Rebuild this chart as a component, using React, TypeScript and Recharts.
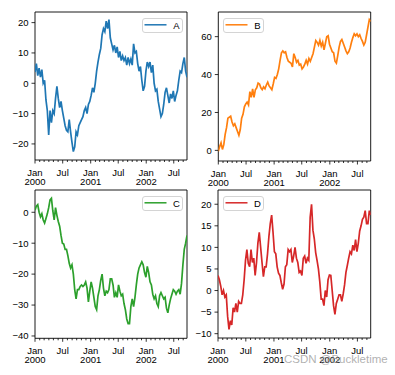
import React from "react";
import { LineChart, Line, XAxis, YAxis, ReferenceArea, Legend } from "recharts";

// Sampled every DAY_STEP days starting 2000-01-01 (index 0 = day 0)
const DAY_STEP = 9;

const seriesA = [
  3.7, 6.5, 2.5, 5, 2, 4.5, 0, 1, -5.5, -9, -17, -9, -13, -9, -10, -5, -1, -5, -8, -6,
  -9, -11.5, -14, -15.5, -16, -12, -16, -19.5, -22.5, -21, -16, -17, -14, -13, -12, -11, -9, -8, -10, -7,
  -6, -4, -1.5, -3, 0, 4, 7, 9.5, 11.5, 16, 18, 17, 20.5, 18, 21, 15, 13, 11, 12.5, 10,
  12, 8.5, 10.5, 7.5, 9, 7.5, 8.5, 6, 8.5, 6.5, 8, 6, 13, 10, 10.5, 6.5, 4, 5.5, 1, -2.5,
  -1, 4, 7, 5.5, 7, 3.5, 6, 0, -2.5, -2, -6, -8.5, -11, -10, -7, -3, -1.5, -4, -6.5, -3.5,
  -5, -2.5, -6, -4, -2.5, 1, 4, 3.5, 6.5, 8.5, 4, 2,
];

const seriesB = [
  -0.5, 2, 4, 0.5, 3, 8.5, 12, 17, 17.5, 18, 15, 13, 14, 12, 10, 8, 11, 17, 19, 23,
  24.5, 25.5, 24, 31, 28, 32.5, 28, 32, 33, 35.5, 35, 33, 32, 33.5, 32.5, 34.5, 36, 34, 33, 32,
  35, 38.5, 38, 40, 43, 47.5, 51.5, 52.5, 51.5, 52, 49, 47, 46.5, 46, 44, 51, 49, 46.5, 47.5, 45,
  45.5, 43, 44, 45.5, 47.5, 45.5, 48.5, 47, 49, 51, 54.5, 58, 57, 55.5, 58, 55, 57, 53, 56.5, 60,
  60.5, 56, 54, 52, 51.5, 47, 46, 50, 54.5, 57.5, 58.5, 56.5, 54.5, 52.5, 51, 52, 54, 57, 59.5, 61.5,
  60.5, 61.5, 60, 61, 59, 57.5, 55.5, 57, 61, 65, 69, 68,
];

const seriesC = [
  0.7, 2, 2.5, 0, -1.5, -0.5, -2.5, -3.5, -2, -0.5, 1.5, 4, 4.5, 0.5, -2.5, 1.5, -1, -3, -4.5, -7.5,
  -10, -10.3, -12, -12, -14, -16.5, -18, -17, -20, -25, -28, -25, -25, -24, -23.5, -24, -23.5, -22.5, -24.5, -29,
  -25.5, -22.5, -24.5, -27.5, -30.5, -31.5, -27, -25, -22, -20, -24.5, -27, -25.5, -26, -25, -21.5, -21.5, -23.5, -27.5, -26,
  -27.5, -23.5, -25.5, -27, -26.5, -29.5, -31.5, -34.5, -36, -36, -30.5, -28, -30.5, -27.5, -23.5, -20, -18, -17, -16, -17,
  -19.5, -21, -17.5, -19.5, -22.5, -23.5, -26.5, -28, -27, -29.5, -30.5, -27, -26, -27, -28, -27.5, -31, -32.5, -30, -28,
  -26.5, -25, -25.5, -26.5, -25.5, -25, -26.5, -23, -17, -12, -10, -7.5,
];

const seriesD = [
  3.5, 2.5, 1, -1, 0, -1.5, -1, -6, -9, -7, -8, -4, -5, -3, -5, -2.5, -3, -3, -1, 2.5,
  7, 9.5, 6.3, 5.5, 9.5, 6.5, 7.5, 3.5, 6.5, 11, 13.5, 10, 6.5, 3.2, 5.5, 5.5, 8.5, 12.5, 15.5, 17.5,
  13.5, 9, 8.5, 5.5, 4, 3.5, 1.8, 0.3, 1.5, 5.5, 6, 9.5, 9, 9.5, 6.5, 8, 10, 7.5, 6.5, 4.2,
  4.5, 3.5, 7.5, 8, 6.3, 7.5, 7, 17, 20, 14, 12, 8.8, 7, 5, 2, -2, -2, -3.5, 0, -1.5,
  2.5, 3.6, 3.5, 0, -3.5, -5.5, -3, -2, -1, -1, -2.5, -0.8, 1.3, 4.2, 5.8, 7.5, 9, 8.5, 10.5, 9.3,
  11.8, 9, 11, 13.8, 15, 16.5, 17, 18.5, 15.5, 15.5, 18.5, 17.5,
];

const seriesNames = ["A", "B", "C", "D"];
const seriesColors = ["#1f77b4", "#ff7f0e", "#2ca02c", "#d62728"];

const yTicksA = [-20, -10, 0, 10, 20];
const yTicksB = [0, 20, 40, 60];
const yTicksC = [-40, -30, -20, -10, 0];
const yTicksD = [-10, -5, 0, 5, 10, 15, 20];

const monthNames = ["Jan", "Feb", "Mar", "Apr", "May", "Jun", "Jul", "Aug", "Sep", "Oct", "Nov", "Dec"];
const LAST_DAY = 999;

// month-start tick positions (days since 2000-01-01)
const monthTicks: { day: number; month: number; year: number }[] = [];
for (let y = 2000; y <= 2002; y++) {
  for (let m = 0; m < 12; m++) {
    const day = Math.round((Date.UTC(y, m, 1) - Date.UTC(2000, 0, 1)) / 86400000);
    if (day <= LAST_DAY) monthTicks.push({ day, month: m, year: y });
  }
}
const tickDays = monthTicks.map((t) => t.day);

const FONT = "'Liberation Sans', Arial, sans-serif";

const toData = (arr: number[]) => arr.map((v, i) => ({ day: i * DAY_STEP, v }));

const fmtY = (v: number) => (v < 0 ? "\u2212" + Math.abs(v) : String(v));

const MonthTick = (props: any) => {
  const { x, y, payload } = props;
  const info = monthTicks.find((t) => t.day === payload.value);
  if (!info) return null;
  const major = info.month === 0 || info.month === 6;
  return (
    <g>
      <line x1={x} x2={x} y1={y} y2={y + (major ? 3.5 : 2)} stroke="#000" strokeWidth={0.8} />
      {major && (
        <text x={x} y={y + 15.5} textAnchor="middle" fontSize={9.5} fontFamily={FONT} fill="#000">
          {monthNames[info.month]}
        </text>
      )}
      {info.month === 0 && (
        <text x={x} y={y + 25} textAnchor="middle" fontSize={9.5} fontFamily={FONT} fill="#000">
          {String(info.year)}
        </text>
      )}
    </g>
  );
};

const LegendBox = ({ name, color }: { name: string; color: string }) => (
  <div
    style={{
      width: 41,
      height: 15,
      boxSizing: "border-box",
      border: "1px solid #d4d4d4",
      borderRadius: 3,
      background: "rgba(255,255,255,0.85)",
      position: "relative",
    }}
  >
    <svg width={41} height={15} style={{ position: "absolute", left: -1, top: -1 }}>
      <line x1={2.5} x2={24.5} y1={6.8} y2={6.8} stroke={color} strokeWidth={1.5} />
      <text x={34.5} y={10.5} textAnchor="middle" fontSize={9.5} fontFamily={FONT} fill="#000">
        {name}
      </text>
    </svg>
  </div>
);

type PanelProps = {
  data: number[];
  idx: number;
  left: number;
  top: number;
  width: number;
  height: number;
  margin: { top: number; right: number; bottom: number; left: number };
  yWidth: number;
  xHeight: number;
  yDomain: [number, number];
  yTicks: number[];
  legendLeft: number;
  legendTop: number;
};

const Panel = (p: PanelProps) => (
  <div style={{ position: "absolute", left: p.left, top: p.top }}>
    <LineChart width={p.width} height={p.height} data={toData(p.data)} margin={p.margin}>
      <XAxis
        dataKey="day"
        type="number"
        domain={[0, LAST_DAY]}
        ticks={tickDays}
        interval={0}
        height={p.xHeight}
        axisLine={false}
        tickLine={false}
        tickSize={0}
        tickMargin={0}
        tick={<MonthTick />}
        allowDataOverflow
      />
      <YAxis
        type="number"
        domain={p.yDomain}
        ticks={p.yTicks}
        interval={0}
        width={p.yWidth}
        axisLine={false}
        tickLine={{ stroke: "#000", strokeWidth: 0.8 }}
        tickSize={3.5}
        tickMargin={3}
        tickFormatter={fmtY}
        tick={{ fontSize: 9.5, fontFamily: FONT, fill: "#000" }}
        allowDataOverflow
      />
      <ReferenceArea
        x1={0}
        x2={LAST_DAY}
        y1={p.yDomain[0]}
        y2={p.yDomain[1]}
        fill="none"
        stroke="#000"
        strokeWidth={0.9}
        ifOverflow="visible"
      />
      <Line
        type="linear"
        dataKey="v"
        name={seriesNames[p.idx]}
        stroke={seriesColors[p.idx]}
        strokeWidth={1.7}
        dot={false}
        isAnimationActive={false}
      />
      <Legend
        layout="horizontal"
        verticalAlign="middle"
        align="center"
        wrapperStyle={{ left: p.legendLeft, top: p.legendTop, width: 41, height: 15 }}
        content={() => <LegendBox name={seriesNames[p.idx]} color={seriesColors[p.idx]} />}
      />
    </LineChart>
  </div>
);

export default function App() {
  return (
    <div style={{ position: "absolute", left: 0, top: 0, width: 395, height: 375, background: "#fff" }}>
      <Panel
        data={seriesA}
        idx={0}
        left={0}
        top={0}
        width={195}
        height={195}
        margin={{ top: 12, right: 8, bottom: 10, left: 0 }}
        yWidth={35}
        xHeight={25}
        yDomain={[-25.3, 23.5]}
        yTicks={yTicksA}
        legendLeft={141.7}
        legendTop={18.3}
      />
      <Panel
        data={seriesB}
        idx={1}
        left={195}
        top={0}
        width={200}
        height={195}
        margin={{ top: 12, right: 24.3, bottom: 10, left: 0 }}
        yWidth={23.3}
        xHeight={24}
        yDomain={[-5.6, 73]}
        yTicks={yTicksB}
        legendLeft={28.3}
        legendTop={18.3}
      />
      <Panel
        data={seriesC}
        idx={2}
        left={0}
        top={185}
        width={195}
        height={190}
        margin={{ top: 5, right: 8, bottom: 0, left: 0 }}
        yWidth={35}
        xHeight={36.7}
        yDomain={[-40.75, 7.2]}
        yTicks={yTicksC}
        legendLeft={141.7}
        legendTop={10.7}
      />
      <Panel
        data={seriesD}
        idx={3}
        left={195}
        top={185}
        width={200}
        height={190}
        margin={{ top: 5, right: 24.3, bottom: 0, left: 0 }}
        yWidth={23}
        xHeight={37}
        yDomain={[-11, 23.3]}
        yTicks={yTicksD}
        legendLeft={28.3}
        legendTop={10.7}
      />
      <div
        style={{
          position: "absolute",
          left: 284,
          top: 353,
          fontSize: 11.5,
          fontFamily: FONT,
          color: "rgba(150,150,150,0.75)",
          whiteSpace: "nowrap",
        }}
      >
        CSDN @Buckletime
      </div>
    </div>
  );
}
